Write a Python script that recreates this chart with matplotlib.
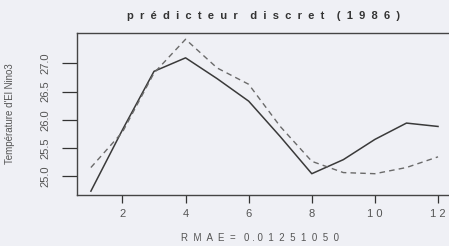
import matplotlib
matplotlib.use('agg')
import matplotlib.pyplot as plt

# mois 1..12, temperature observee et prevue
months = list(range(1, 13))
observed = [24.73, 25.82, 26.86, 27.10, 26.73, 26.33, 25.70, 25.04, 25.29, 25.65, 25.94, 25.88]
predicted = [25.15, 25.78, 26.83, 27.43, 26.92, 26.63, 25.88, 25.26, 25.06, 25.04, 25.15, 25.34]

ytick_vals = [25.0, 25.5, 26.0, 26.5, 27.0]
xtick_vals = [2, 4, 6, 8, 10, 12]

plt.rcParams['font.family'] = ['Liberation Sans', 'DejaVu Sans']
bg = '#eff0f5'

fig = plt.figure(figsize=(4.49, 2.46), dpi=100, facecolor=bg)
ax = fig.add_axes([0.1715, 0.207, 0.842, 0.6585])
ax.set_facecolor(bg)

ax.plot(months, observed, color='#3a3a3a', lw=1.1)
ax.plot(months, predicted, color='#6a6a6a', lw=1.0, ls=(0, (4, 3)))

ax.set_xlim(0.56, 12.54)
ax.set_ylim(24.66, 27.54)

ax.set_xticks(xtick_vals)
ax.set_xticklabels([' '.join(str(v)) for v in xtick_vals])
ax.set_yticks(ytick_vals)
ax.set_yticklabels(['%.1f' % v for v in ytick_vals], rotation=90, va='center')

ax.tick_params(axis='x', length=6, width=0.9, color='#333333', labelsize=8, labelcolor='#555555', pad=4)
ax.tick_params(axis='y', length=11, width=0.9, color='#333333', labelsize=8, labelcolor='#555555', pad=8)

for s in ['left', 'bottom', 'top']:
    ax.spines[s].set_color('#444444')
    ax.spines[s].set_linewidth(1.0)
ax.spines['right'].set_visible(False)

ax.set_ylabel("Température d'El Nino3", fontsize=7, color='#555555')
ax.yaxis.set_label_coords(-0.165, 0.5)

fig.text(0.587, 0.935, 'p  r  é  d  i  c  t  e  u  r    d  i  s  c  r  e  t    (  1  9  8  6  )',
         ha='center', va='center', fontsize=8, fontweight='bold', color='#333333')
fig.text(0.58, 0.012, 'R  M  A  E  =   0 . 0  1  2  5  1  0  5  0',
         ha='center', va='bottom', fontsize=7, color='#555555')

fig.savefig('out.png', dpi=100, facecolor=bg)
